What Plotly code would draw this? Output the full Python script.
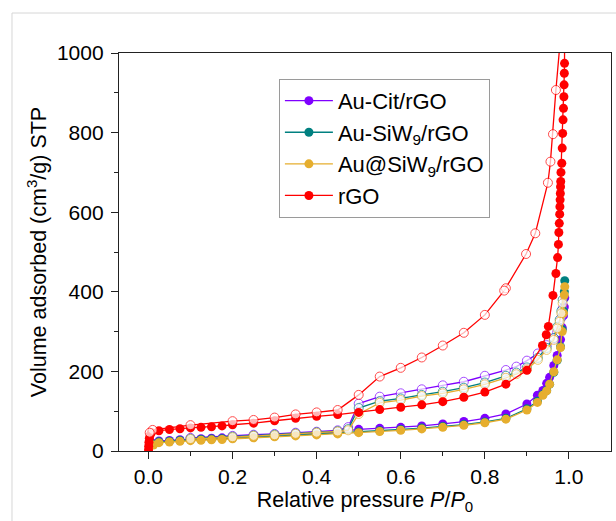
import plotly.graph_objects as go

# ---- N2 sorption isotherms (relative pressure P/P0, volume adsorbed cm3/g STP) ----

# Au composite samples: adsorption branch
p_ads_au = [0.012, 0.025, 0.05, 0.075, 0.1, 0.125, 0.15, 0.175, 0.2, 0.25, 0.3, 0.35,
            0.4, 0.45, 0.5, 0.55, 0.6, 0.65, 0.7, 0.75, 0.8, 0.85, 0.9, 0.925, 0.938,
            0.947, 0.954, 0.964, 0.972, 0.98, 0.984, 0.987, 0.989, 0.99]
v_ads_cit = [19, 25, 26.5, 28.5, 30, 31, 32, 33, 34.5, 37, 39.5, 42, 44.5, 47.5, 54.5,
             57, 59.5, 63, 68, 74, 82, 93, 118, 140, 152, 170, 185, 215, 240, 280, 310,
             340, 362, 385]
v_ads_siw = [17, 23, 24.5, 26.5, 28, 29, 30, 31, 32.5, 35, 37.5, 40, 42.5, 45, 48,
             51, 54, 57.5, 61.5, 66.5, 73, 82, 106, 125, 142, 152, 168, 198, 228, 262,
             305, 352, 400, 428]
v_ads_at = [15, 21, 22.5, 24.5, 26, 27, 28, 29, 30.5, 33, 35.5, 38, 40.5, 43, 46, 49,
            52, 55.5, 59.5, 64.5, 71, 80, 103, 122, 140, 151, 168, 199, 229, 260, 300,
            346, 392, 413]

# Au composite samples: desorption branch (starts at the last adsorption point)
p_des_au = [0.99, 0.985, 0.982, 0.978, 0.972, 0.964, 0.947, 0.926, 0.9, 0.875, 0.85,
            0.8, 0.75, 0.7, 0.65, 0.6, 0.55, 0.5, 0.475, 0.45, 0.4, 0.35, 0.3, 0.25,
            0.2, 0.1]
v_des_cit = [385, 358, 335, 315, 298, 282, 266, 245, 227, 212, 203.5, 189, 174, 165,
             155, 145, 136.5, 119, 60, 52, 48.5, 46, 43, 41, 38, 33]
v_des_siw = [428, 380, 352, 330, 312, 284, 259, 234, 210, 197, 189, 172, 159, 149, 141,
             132, 125, 108, 55, 50, 47, 44, 41, 39, 36, 31]
v_des_at = [413, 371, 346, 325, 308, 279, 254, 229, 205, 193, 184, 167.5, 155, 145,
            138, 128, 121, 93, 52, 49, 46, 43, 39.5, 38, 34.5, 30]

# rGO: adsorption branch
p_ads_rgo = [0.0002, 0.0006, 0.0012, 0.0022, 0.004, 0.007, 0.025, 0.05, 0.075, 0.1,
             0.125, 0.15, 0.175, 0.2, 0.25, 0.3, 0.35, 0.4, 0.45, 0.5, 0.55, 0.6, 0.65,
             0.7, 0.75, 0.8, 0.85, 0.9, 0.937, 0.946, 0.951, 0.962, 0.969, 0.973,
             0.975, 0.976, 0.977, 0.978, 0.9785, 0.979, 0.9795, 0.98, 0.9805, 0.981,
             0.983, 0.984, 0.985, 0.986, 0.987, 0.988, 0.9885, 0.989, 0.9895, 0.99]
v_ads_rgo = [3, 12, 22, 32, 40, 46, 51, 54, 56, 58, 59.5, 61, 63, 66, 70, 76, 82, 87,
             91.5, 97, 104, 110, 116, 124, 135, 148, 168, 203, 265, 292, 313, 391, 446,
             486, 519, 549, 572, 595, 614, 631, 647, 664, 677, 700, 723, 761, 798, 832,
             861, 890, 920, 949, 974, 1250]

# rGO: desorption branch
p_des_rgo = [0.99, 0.98, 0.969, 0.962, 0.956, 0.95, 0.92, 0.898, 0.85, 0.846, 0.8,
             0.75, 0.7, 0.65, 0.6, 0.55, 0.5, 0.45, 0.4, 0.35, 0.3, 0.25, 0.2, 0.1,
             0.01, 0.003]
v_des_rgo = [1250, 1040, 907, 796, 727, 674, 547, 495, 409, 403, 342, 297, 265, 235,
             209, 187, 141, 103, 97, 92, 84, 78, 75, 65, 53, 46]

samples = [
    ("Au-Cit/rGO", "#7F00FF", p_ads_au, v_ads_cit, p_des_au, v_des_cit),
    ("Au-SiW<sub>9</sub>/rGO", "#008080", p_ads_au, v_ads_siw, p_des_au, v_des_siw),
    ("Au@SiW<sub>9</sub>/rGO", "#E6AE2E", p_ads_au, v_ads_at, p_des_au, v_des_at),
    ("rGO", "#FF0000", p_ads_rgo, v_ads_rgo, p_des_rgo, v_des_rgo),
]

FONT = "Liberation Sans, Arial, sans-serif"
MS = 9

fig = go.Figure()
for name, color, pa, va, pd_, vd in samples:
    # adsorption: filled circles
    fig.add_trace(go.Scatter(
        x=pa, y=va, name=name, mode="lines+markers",
        line=dict(color=color, width=1.3),
        marker=dict(symbol="circle", size=MS, color=color, line=dict(width=0)),
    ))
    # desorption: open circles (first point shares the adsorption end point)
    sizes = [0] + [MS] * (len(pd_) - 1)
    fig.add_trace(go.Scatter(
        x=pd_, y=vd, name=name, mode="lines+markers", showlegend=False,
        line=dict(color=color, width=1.3),
        marker=dict(symbol="circle", size=sizes, color="white",
                    line=dict(color=color, width=1)),
    ))

axis_common = dict(
    showline=True, linecolor="#222222", linewidth=1.3, mirror=True,
    ticks="outside", ticklen=7, tickwidth=1.3, tickcolor="#222222",
    showgrid=False, zeroline=False,
    tickfont=dict(family=FONT, size=21, color="black"),
)

fig.update_xaxes(
    range=[-0.07, 1.1], tickvals=[0, 0.2, 0.4, 0.6, 0.8, 1.0],
    ticktext=["0.0", "0.2", "0.4", "0.6", "0.8", "1.0"],
    minor=dict(tickvals=[0.1, 0.3, 0.5, 0.7, 0.9], ticks="outside", ticklen=4,
               tickwidth=1.3, tickcolor="#222222"),
    title=dict(text="Relative pressure <i>P</i>/<i>P</i><sub>0</sub>",
               font=dict(family=FONT, size=21.5, color="black"), standoff=2),
    **axis_common,
)
fig.update_yaxes(
    range=[0, 1000], tickvals=[0, 200, 400, 600, 800, 1000],
    ticklabelstandoff=3,
    minor=dict(tickvals=[100, 300, 500, 700, 900], ticks="outside", ticklen=4,
               tickwidth=1.3, tickcolor="#222222"),
    title=dict(text="Volume adsorbed (cm<sup>3</sup>/g) STP",
               font=dict(family=FONT, size=21.5, color="black"), standoff=4),
    **axis_common,
)

fig.update_layout(
    width=616, height=521,
    margin=dict(l=119, r=5, t=53, b=70),
    paper_bgcolor="white", plot_bgcolor="white",
    showlegend=True,
    legend=dict(
        x=0.325, y=0.935, xanchor="left", yanchor="top",
        bgcolor="white", bordercolor="#9a9a9a", borderwidth=1,
        font=dict(family=FONT, size=22, color="black"),
        itemwidth=48, tracegroupgap=0,
    ),
    shapes=[dict(
        type="rect", xref="paper", yref="paper",
        x0=-0.2175, x1=1.3, y0=-0.5, y1=1.1005,
        line=dict(color="#d6d6d6", width=1), fillcolor="rgba(0,0,0,0)",
        layer="below",
    )],
)

fig.write_html("out.html")
